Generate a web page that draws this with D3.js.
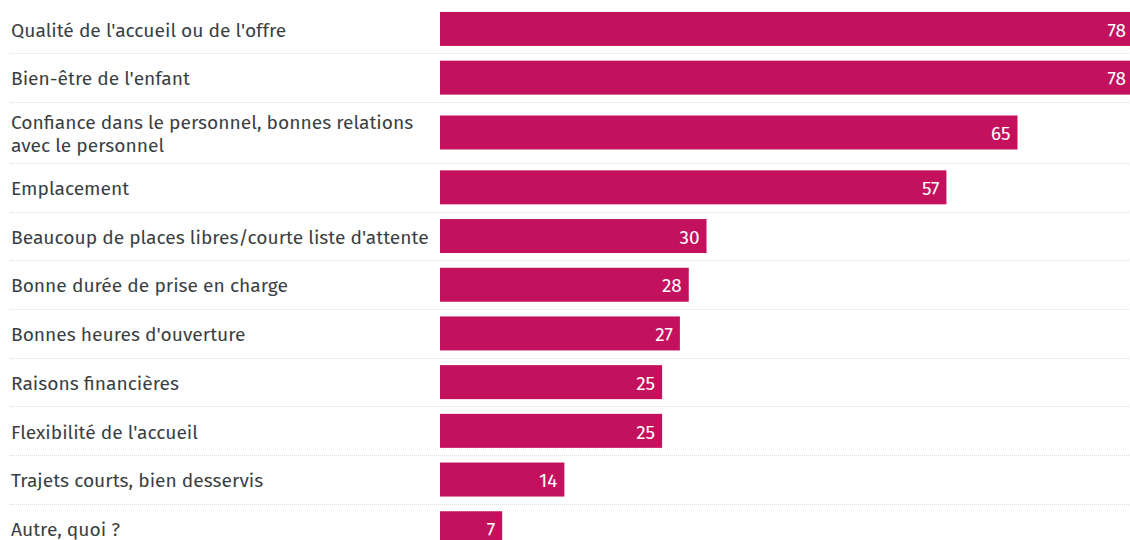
<!DOCTYPE html>
<html><head><meta charset="utf-8">
<script src="https://cdn.jsdelivr.net/npm/d3@7"></script>
<style>
html,body{margin:0;padding:0;background:#fff;}
svg{display:block;}
</style></head>
<body>
<svg id="chart" width="1130" height="540"></svg>
<script>
const categories = [
  ["Qualité de l'accueil ou de l'offre"],
  ["Bien-être de l'enfant"],
  ["Confiance dans le personnel, bonnes relations", "avec le personnel"],
  ["Emplacement"],
  ["Beaucoup de places libres/courte liste d'attente"],
  ["Bonne durée de prise en charge"],
  ["Bonnes heures d'ouverture"],
  ["Raisons financières"],
  ["Flexibilité de l'accueil"],
  ["Trajets courts, bien desservis"],
  ["Autre, quoi ?"]
];
const values = [78, 78, 65, 57, 30, 28, 27, 25, 25, 14, 7];

const W = 1130, H = 540;
const svg = d3.select("#chart");
const x = d3.scaleLinear().domain([0, 78]).range([440, 1133]);

const singleH = 48.7, extraLine = 12.3, barH = 34, top0 = 4.6;
const rows = [];
let y0 = top0;
categories.forEach((lines, i) => {
  const h = singleH + (lines.length - 1) * extraLine;
  rows.push({lines, value: values[i], y: y0, h});
  y0 += h;
});

const font = "'Fira Sans','Noto Sans',sans-serif";
const g = svg.append("g");

// separators
g.selectAll("line.sep").data(rows.slice(1)).join("line")
  .attr("x1", 10).attr("x2", W)
  .attr("y1", d => Math.round(d.y) + 0.5).attr("y2", d => Math.round(d.y) + 0.5)
  .attr("stroke", "#dcdcdc").attr("stroke-width", 1).attr("stroke-dasharray", "1,1");

// bars
g.selectAll("rect.bar").data(rows).join("rect")
  .attr("x", x(0))
  .attr("y", d => d.y + d.h / 2 - barH / 2)
  .attr("width", d => x(d.value) - x(0))
  .attr("height", barH)
  .attr("fill", "#c4115d");

// value labels
g.selectAll("text.val").data(rows).join("text")
  .attr("x", d => x(d.value) - 7)
  .attr("y", d => d.y + d.h / 2 + 1)
  .attr("dy", "0.35em")
  .attr("text-anchor", "end")
  .attr("font-family", font)
  .attr("font-size", 19)
  .attr("fill", "#fff")
  .text(d => d.value);

// category labels
const lab = g.selectAll("text.cat").data(rows).join("text")
  .attr("font-family", font)
  .attr("font-size", 19.2)
  .attr("fill", "#3a3f44");
lab.each(function(d) {
  const n = d.lines.length, lh = 23;
  const cy = d.y + d.h / 2 + 1;
  d3.select(this).selectAll("tspan").data(d.lines).join("tspan")
    .attr("x", 11)
    .attr("y", (l, j) => cy + (j - (n - 1) / 2) * lh)
    .attr("dy", "0.35em")
    .text(l => l);
});
</script>
</body></html>
